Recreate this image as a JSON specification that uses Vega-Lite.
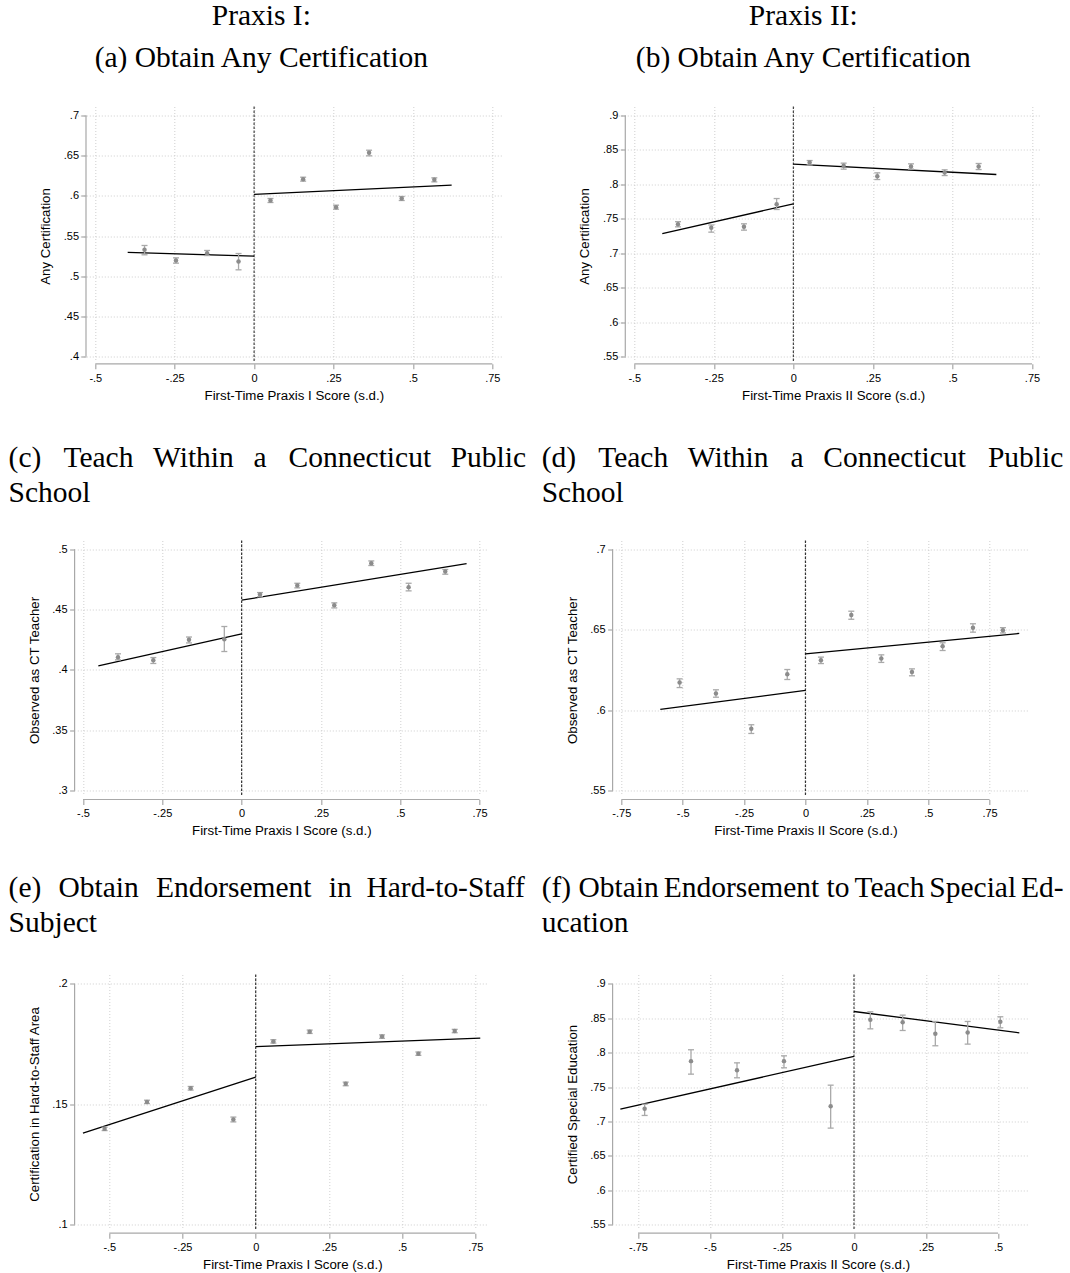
{
  "$schema": "https://vega.github.io/schema/vega-lite/v6.json",
  "background": "white",
  "autosize": {"type": "pad"},
  "padding": {"left": 8.3, "top": 0.5, "right": 0, "bottom": 0},
  "columns": 2,
  "bounds": "flush",
  "align": "all",
  "spacing": {"row": 179, "column": 113},
  "datasets": {
    "pts_a": [
      {"x": -0.345, "y": 0.5328, "lo": 0.5266, "hi": 0.5382},
      {"x": -0.246, "y": 0.5195, "lo": 0.5162, "hi": 0.5228},
      {"x": -0.148, "y": 0.5286, "lo": 0.5257, "hi": 0.532},
      {"x": -0.049, "y": 0.5183, "lo": 0.5079, "hi": 0.5282},
      {"x": 0.0516, "y": 0.5942, "lo": 0.5917, "hi": 0.5967},
      {"x": 0.1544, "y": 0.6207, "lo": 0.6183, "hi": 0.6232},
      {"x": 0.258, "y": 0.5859, "lo": 0.5834, "hi": 0.5884},
      {"x": 0.362, "y": 0.6535, "lo": 0.6498, "hi": 0.6568},
      {"x": 0.4648, "y": 0.5967, "lo": 0.5942, "hi": 0.5992},
      {"x": 0.5675, "y": 0.62, "lo": 0.6174, "hi": 0.6224}
    ],
    "fit_a": [
      {"seg": "L", "x": -0.398, "y": 0.5295}, {"seg": "L", "x": 0, "y": 0.5249},
      {"seg": "R", "x": 0, "y": 0.6017}, {"seg": "R", "x": 0.622, "y": 0.6133}
    ],
    "pts_b": [
      {"x": -0.3627, "y": 0.7422, "lo": 0.7383, "hi": 0.7458},
      {"x": -0.258, "y": 0.7369, "lo": 0.7306, "hi": 0.741},
      {"x": -0.1553, "y": 0.7383, "lo": 0.7335, "hi": 0.7427},
      {"x": -0.0526, "y": 0.7712, "lo": 0.7635, "hi": 0.7794},
      {"x": 0.0511, "y": 0.8317, "lo": 0.8283, "hi": 0.8346},
      {"x": 0.158, "y": 0.8269, "lo": 0.8221, "hi": 0.8308},
      {"x": 0.2638, "y": 0.8119, "lo": 0.807, "hi": 0.8167},
      {"x": 0.3697, "y": 0.8259, "lo": 0.8221, "hi": 0.8298},
      {"x": 0.4755, "y": 0.8172, "lo": 0.8128, "hi": 0.8211},
      {"x": 0.5823, "y": 0.8259, "lo": 0.8215, "hi": 0.8303}
    ],
    "fit_b": [
      {"seg": "L", "x": -0.412, "y": 0.7286}, {"seg": "L", "x": 0, "y": 0.7717},
      {"seg": "R", "x": 0, "y": 0.8293}, {"seg": "R", "x": 0.638, "y": 0.8143}
    ],
    "pts_c": [
      {"x": -0.3897, "y": 0.4106, "lo": 0.4084, "hi": 0.4134},
      {"x": -0.2784, "y": 0.4081, "lo": 0.4054, "hi": 0.4103},
      {"x": -0.1659, "y": 0.425, "lo": 0.4224, "hi": 0.4273},
      {"x": -0.0546, "y": 0.4255, "lo": 0.4153, "hi": 0.436},
      {"x": 0.0578, "y": 0.4625, "lo": 0.4606, "hi": 0.4641},
      {"x": 0.1754, "y": 0.4699, "lo": 0.468, "hi": 0.4718},
      {"x": 0.292, "y": 0.4537, "lo": 0.4514, "hi": 0.4556},
      {"x": 0.4086, "y": 0.4884, "lo": 0.4865, "hi": 0.4903},
      {"x": 0.5263, "y": 0.4686, "lo": 0.4655, "hi": 0.4718},
      {"x": 0.6418, "y": 0.4815, "lo": 0.4793, "hi": 0.4832}
    ],
    "fit_c": [
      {"seg": "L", "x": -0.4517, "y": 0.4034}, {"seg": "L", "x": 0, "y": 0.4299},
      {"seg": "R", "x": 0, "y": 0.4578}, {"seg": "R", "x": 0.709, "y": 0.4881}
    ],
    "pts_d": [
      {"x": -0.5125, "y": 0.6172, "lo": 0.6141, "hi": 0.6195},
      {"x": -0.3645, "y": 0.6104, "lo": 0.6081, "hi": 0.6127},
      {"x": -0.2206, "y": 0.5885, "lo": 0.5856, "hi": 0.591},
      {"x": -0.074, "y": 0.6224, "lo": 0.6191, "hi": 0.6253},
      {"x": 0.0631, "y": 0.6311, "lo": 0.629, "hi": 0.633},
      {"x": 0.1867, "y": 0.6592, "lo": 0.6565, "hi": 0.6615},
      {"x": 0.3089, "y": 0.6321, "lo": 0.6297, "hi": 0.6344},
      {"x": 0.4338, "y": 0.6237, "lo": 0.6214, "hi": 0.6257},
      {"x": 0.5587, "y": 0.6398, "lo": 0.6371, "hi": 0.6419},
      {"x": 0.6822, "y": 0.6512, "lo": 0.6485, "hi": 0.6537},
      {"x": 0.8043, "y": 0.6497, "lo": 0.648, "hi": 0.6513}
    ],
    "fit_d": [
      {"seg": "L", "x": -0.5912, "y": 0.6005}, {"seg": "L", "x": 0, "y": 0.6123},
      {"seg": "R", "x": 0, "y": 0.635}, {"seg": "R", "x": 0.8708, "y": 0.6477}
    ],
    "pts_e": [
      {"x": -0.516, "y": 0.1398, "lo": 0.1391, "hi": 0.1405},
      {"x": -0.3713, "y": 0.151, "lo": 0.1503, "hi": 0.1517},
      {"x": -0.2221, "y": 0.1567, "lo": 0.1559, "hi": 0.1574},
      {"x": -0.0763, "y": 0.1437, "lo": 0.1427, "hi": 0.1447},
      {"x": 0.0603, "y": 0.1761, "lo": 0.1754, "hi": 0.1768},
      {"x": 0.1844, "y": 0.1801, "lo": 0.1794, "hi": 0.1808},
      {"x": 0.3074, "y": 0.1585, "lo": 0.1577, "hi": 0.1592},
      {"x": 0.4315, "y": 0.1781, "lo": 0.1774, "hi": 0.1788},
      {"x": 0.5556, "y": 0.171, "lo": 0.1703, "hi": 0.1717},
      {"x": 0.6797, "y": 0.1804, "lo": 0.1797, "hi": 0.1811}
    ],
    "fit_e": [
      {"seg": "L", "x": -0.59, "y": 0.138}, {"seg": "L", "x": 0, "y": 0.1613},
      {"seg": "R", "x": 0, "y": 0.1739}, {"seg": "R", "x": 0.767, "y": 0.1775}
    ],
    "pts_f": [
      {"x": -0.7269, "y": 0.7185, "lo": 0.7088, "hi": 0.7252},
      {"x": -0.566, "y": 0.7877, "lo": 0.7688, "hi": 0.8042},
      {"x": -0.4062, "y": 0.7746, "lo": 0.7635, "hi": 0.7852},
      {"x": -0.2431, "y": 0.7877, "lo": 0.778, "hi": 0.7954},
      {"x": -0.081, "y": 0.7223, "lo": 0.6904, "hi": 0.7528},
      {"x": 0.0567, "y": 0.8477, "lo": 0.8346, "hi": 0.8593},
      {"x": 0.169, "y": 0.8443, "lo": 0.8322, "hi": 0.8545},
      {"x": 0.2824, "y": 0.8274, "lo": 0.81, "hi": 0.8453},
      {"x": 0.3947, "y": 0.8293, "lo": 0.8124, "hi": 0.8453},
      {"x": 0.5081, "y": 0.8448, "lo": 0.8361, "hi": 0.8521}
    ],
    "fit_f": [
      {"seg": "L", "x": -0.8113, "y": 0.718}, {"seg": "L", "x": 0, "y": 0.7945},
      {"seg": "R", "x": 0, "y": 0.8598}, {"seg": "R", "x": 0.574, "y": 0.8288}
    ]
  },
  "concat": [
    {
      "width": 425, "height": 255,
      "title": {"text": ["Praxis I:", "(a) Obtain Any Certification"], "anchor": "middle", "dx": -28.5, "lineHeight": 42, "offset": 32},
      "layer": [
        {"data": {"values": [{}]}, "mark": {"type": "rule", "color": "#a8a8a8", "strokeWidth": 1.2}, "encoding": {"x": {"datum": -0.5293}, "y": {"datum": 0.4}, "y2": {"datum": 0.7}}},
        {"data": {"values": [{}]}, "mark": {"type": "rule", "color": "#a8a8a8", "strokeWidth": 1.2}, "encoding": {"x": {"datum": -0.5}, "x2": {"datum": 0.75}, "y": {"datum": 0.39091}}},
        {"data": {"values": [{}]}, "mark": {"type": "rule", "color": "#444444", "strokeDash": [2.5, 1.5], "strokeWidth": 1.2}, "encoding": {"x": {"datum": 0}}},
        {"data": {"name": "fit_a"}, "mark": {"type": "line", "color": "#000000", "strokeWidth": 1.3}, "encoding": {"x": {"field": "x", "type": "quantitative"}, "y": {"field": "y", "type": "quantitative"}, "detail": {"field": "seg"}}},
        {"data": {"name": "pts_a"}, "mark": {"type": "rule", "color": "#a9a9a9", "strokeWidth": 1.3}, "encoding": {"x": {"field": "x", "type": "quantitative"}, "y": {"field": "lo", "type": "quantitative"}, "y2": {"field": "hi"}}},
        {"data": {"name": "pts_a"}, "mark": {"type": "tick", "orient": "horizontal", "size": 6, "thickness": 1.3, "color": "#a9a9a9", "opacity": 1}, "encoding": {"x": {"field": "x", "type": "quantitative"}, "y": {"field": "lo", "type": "quantitative"}}},
        {"data": {"name": "pts_a"}, "mark": {"type": "tick", "orient": "horizontal", "size": 6, "thickness": 1.3, "color": "#a9a9a9", "opacity": 1}, "encoding": {"x": {"field": "x", "type": "quantitative"}, "y": {"field": "hi", "type": "quantitative"}}},
        {"data": {"name": "pts_a"}, "mark": {"type": "point", "filled": true, "size": 20, "color": "#8c8c8c", "opacity": 1},
         "encoding": {
           "x": {"field": "x", "type": "quantitative", "scale": {"domain": [-0.55668, 0.78149], "nice": false, "zero": false},
                 "axis": {"title": "First-Time Praxis I Score (s.d.)", "values": [-0.5, -0.25, 0, 0.25, 0.5, 0.75], "tickCount": 40, "offset": 2.3, "titleX": 216.5, "labelOverlap": false}},
           "y": {"field": "y", "type": "quantitative", "scale": {"domain": [0.39378, 0.7112], "nice": false, "zero": false},
                 "axis": {"title": "Any Certification", "values": [0.4, 0.45, 0.5, 0.55, 0.6, 0.65, 0.7], "tickCount": 40, "offset": -8.7, "labelOverlap": false}}
         }}
      ]
    },
    {
      "width": 425, "height": 255,
      "title": {"text": ["Praxis II:", "(b) Obtain Any Certification"], "anchor": "middle", "dx": -24.5, "lineHeight": 42, "offset": 32},
      "layer": [
        {"data": {"values": [{}]}, "mark": {"type": "rule", "color": "#a8a8a8", "strokeWidth": 1.2}, "encoding": {"x": {"datum": -0.52829}, "y": {"datum": 0.55}, "y2": {"datum": 0.9}}},
        {"data": {"values": [{}]}, "mark": {"type": "rule", "color": "#a8a8a8", "strokeWidth": 1.2}, "encoding": {"x": {"datum": -0.5}, "x2": {"datum": 0.75}, "y": {"datum": 0.5394}}},
        {"data": {"values": [{}]}, "mark": {"type": "rule", "color": "#444444", "strokeDash": [2.5, 1.5], "strokeWidth": 1.2}, "encoding": {"x": {"datum": 0}}},
        {"data": {"name": "fit_b"}, "mark": {"type": "line", "color": "#000000", "strokeWidth": 1.3}, "encoding": {"x": {"field": "x", "type": "quantitative"}, "y": {"field": "y", "type": "quantitative"}, "detail": {"field": "seg"}}},
        {"data": {"name": "pts_b"}, "mark": {"type": "rule", "color": "#a9a9a9", "strokeWidth": 1.3}, "encoding": {"x": {"field": "x", "type": "quantitative"}, "y": {"field": "lo", "type": "quantitative"}, "y2": {"field": "hi"}}},
        {"data": {"name": "pts_b"}, "mark": {"type": "tick", "orient": "horizontal", "size": 6, "thickness": 1.3, "color": "#a9a9a9", "opacity": 1}, "encoding": {"x": {"field": "x", "type": "quantitative"}, "y": {"field": "lo", "type": "quantitative"}}},
        {"data": {"name": "pts_b"}, "mark": {"type": "tick", "orient": "horizontal", "size": 6, "thickness": 1.3, "color": "#a9a9a9", "opacity": 1}, "encoding": {"x": {"field": "x", "type": "quantitative"}, "y": {"field": "hi", "type": "quantitative"}}},
        {"data": {"name": "pts_b"}, "mark": {"type": "point", "filled": true, "size": 20, "color": "#8c8c8c", "opacity": 1},
         "encoding": {
           "x": {"field": "x", "type": "quantitative", "scale": {"domain": [-0.55972, 0.77609], "nice": false, "zero": false},
                 "axis": {"title": "First-Time Praxis II Score (s.d.)", "values": [-0.5, -0.25, 0, 0.25, 0.5, 0.75], "tickCount": 40, "offset": 2.3, "titleX": 217.85, "labelOverlap": false}},
           "y": {"field": "y", "type": "quantitative", "scale": {"domain": [0.54274, 0.91307], "nice": false, "zero": false},
                 "axis": {"title": "Any Certification", "values": [0.55, 0.6, 0.65, 0.7, 0.75, 0.8, 0.85, 0.9], "tickCount": 40, "offset": -10, "labelOverlap": false}}
         }}
      ]
    },
    {
      "width": 411, "height": 255,
      "title": {"text": ["(c)\u2002\u00a0Teach\u2002\u2006Within\u2002\u2006a\u2002\u00a0Connecticut\u2002\u2006Public", "School"], "anchor": "start", "dx": -68.7, "lineHeight": 35, "offset": 31},
      "layer": [
        {"data": {"values": [{}]}, "mark": {"type": "rule", "color": "#a8a8a8", "strokeWidth": 1.2}, "encoding": {"x": {"datum": -0.52648}, "y": {"datum": 0.3}, "y2": {"datum": 0.5}}},
        {"data": {"values": [{}]}, "mark": {"type": "rule", "color": "#a8a8a8", "strokeWidth": 1.2}, "encoding": {"x": {"datum": -0.5}, "x2": {"datum": 0.75}, "y": {"datum": 0.2928}}},
        {"data": {"values": [{}]}, "mark": {"type": "rule", "color": "#333333", "strokeDash": [2.5, 1.5], "strokeWidth": 1.2}, "encoding": {"x": {"datum": 0}}},
        {"data": {"name": "fit_c"}, "mark": {"type": "line", "color": "#000000", "strokeWidth": 1.3}, "encoding": {"x": {"field": "x", "type": "quantitative"}, "y": {"field": "y", "type": "quantitative"}, "detail": {"field": "seg"}}},
        {"data": {"name": "pts_c"}, "mark": {"type": "rule", "color": "#a9a9a9", "strokeWidth": 1.3}, "encoding": {"x": {"field": "x", "type": "quantitative"}, "y": {"field": "lo", "type": "quantitative"}, "y2": {"field": "hi"}}},
        {"data": {"name": "pts_c"}, "mark": {"type": "tick", "orient": "horizontal", "size": 6, "thickness": 1.3, "color": "#a9a9a9", "opacity": 1}, "encoding": {"x": {"field": "x", "type": "quantitative"}, "y": {"field": "lo", "type": "quantitative"}}},
        {"data": {"name": "pts_c"}, "mark": {"type": "tick", "orient": "horizontal", "size": 6, "thickness": 1.3, "color": "#a9a9a9", "opacity": 1}, "encoding": {"x": {"field": "x", "type": "quantitative"}, "y": {"field": "hi", "type": "quantitative"}}},
        {"data": {"name": "pts_c"}, "mark": {"type": "point", "filled": true, "size": 20, "color": "#8c8c8c", "opacity": 1},
         "encoding": {
           "x": {"field": "x", "type": "quantitative", "scale": {"domain": [-0.51797, 0.77742], "nice": false, "zero": false},
                 "axis": {"title": "First-Time Praxis I Score (s.d.)", "values": [-0.5, -0.25, 0, 0.25, 0.5, 0.75], "tickCount": 40, "offset": 4, "titleX": 204, "labelOverlap": false}},
           "y": {"field": "y", "type": "quantitative", "scale": {"domain": [0.29611, 0.5072], "nice": false, "zero": false},
                 "axis": {"title": "Observed as CT Teacher", "values": [0.3, 0.35, 0.4, 0.45, 0.5], "tickCount": 40, "offset": 2.7, "labelOverlap": false}}
         }}
      ]
    },
    {
      "width": 412, "height": 255,
      "title": {"text": ["(d)\u2002\u00a0Teach\u2002\u2006Within\u2002\u00a0a\u2002\u2006Connecticut\u2002\u00a0Public", "School"], "anchor": "start", "dx": -73.6, "lineHeight": 35, "offset": 31},
      "layer": [
        {"data": {"values": [{}]}, "mark": {"type": "rule", "color": "#a8a8a8", "strokeWidth": 1.2}, "encoding": {"x": {"datum": -0.78543}, "y": {"datum": 0.55}, "y2": {"datum": 0.7}}},
        {"data": {"values": [{}]}, "mark": {"type": "rule", "color": "#a8a8a8", "strokeWidth": 1.2}, "encoding": {"x": {"datum": -0.75}, "x2": {"datum": 0.75}, "y": {"datum": 0.5446}}},
        {"data": {"values": [{}]}, "mark": {"type": "rule", "color": "#333333", "strokeDash": [2.5, 1.5], "strokeWidth": 1.2}, "encoding": {"x": {"datum": 0}}},
        {"data": {"name": "fit_d"}, "mark": {"type": "line", "color": "#000000", "strokeWidth": 1.3}, "encoding": {"x": {"field": "x", "type": "quantitative"}, "y": {"field": "y", "type": "quantitative"}, "detail": {"field": "seg"}}},
        {"data": {"name": "pts_d"}, "mark": {"type": "rule", "color": "#a9a9a9", "strokeWidth": 1.3}, "encoding": {"x": {"field": "x", "type": "quantitative"}, "y": {"field": "lo", "type": "quantitative"}, "y2": {"field": "hi"}}},
        {"data": {"name": "pts_d"}, "mark": {"type": "tick", "orient": "horizontal", "size": 6, "thickness": 1.3, "color": "#a9a9a9", "opacity": 1}, "encoding": {"x": {"field": "x", "type": "quantitative"}, "y": {"field": "lo", "type": "quantitative"}}},
        {"data": {"name": "pts_d"}, "mark": {"type": "tick", "orient": "horizontal", "size": 6, "thickness": 1.3, "color": "#a9a9a9", "opacity": 1}, "encoding": {"x": {"field": "x", "type": "quantitative"}, "y": {"field": "hi", "type": "quantitative"}}},
        {"data": {"name": "pts_d"}, "mark": {"type": "point", "filled": true, "size": 20, "color": "#8c8c8c", "opacity": 1},
         "encoding": {
           "x": {"field": "x", "type": "quantitative", "scale": {"domain": [-0.77444, 0.90354], "nice": false, "zero": false},
                 "axis": {"title": "First-Time Praxis II Score (s.d.)", "values": [-0.75, -0.5, -0.25, 0, 0.25, 0.5, 0.75], "tickCount": 40, "offset": 4, "titleX": 190.15, "labelOverlap": false}},
           "y": {"field": "y", "type": "quantitative", "scale": {"domain": [0.54708, 0.7054], "nice": false, "zero": false},
                 "axis": {"title": "Observed as CT Teacher", "values": [0.55, 0.6, 0.65, 0.7], "tickCount": 40, "offset": 2.7, "labelOverlap": false}}
         }}
      ]
    },
    {
      "width": 411, "height": 255,
      "title": {"text": ["(e)\u2004\u2005Obtain\u2004\u2005Endorsement\u2004\u2005in\u2002Hard-to-Staff", "Subject"], "anchor": "start", "dx": -68.7, "lineHeight": 35, "offset": 35.5},
      "layer": [
        {"data": {"values": [{}]}, "mark": {"type": "rule", "color": "#a8a8a8", "strokeWidth": 1.2}, "encoding": {"x": {"datum": -0.61851}, "y": {"datum": 0.1}, "y2": {"datum": 0.2}}},
        {"data": {"values": [{}]}, "mark": {"type": "rule", "color": "#a8a8a8", "strokeWidth": 1.2}, "encoding": {"x": {"datum": -0.5}, "x2": {"datum": 0.75}, "y": {"datum": 0.09651}}},
        {"data": {"values": [{}]}, "mark": {"type": "rule", "color": "#333333", "strokeDash": [2.5, 1.5], "strokeWidth": 1.2}, "encoding": {"x": {"datum": 0}}},
        {"data": {"name": "fit_e"}, "mark": {"type": "line", "color": "#000000", "strokeWidth": 1.3}, "encoding": {"x": {"field": "x", "type": "quantitative"}, "y": {"field": "y", "type": "quantitative"}, "detail": {"field": "seg"}}},
        {"data": {"name": "pts_e"}, "mark": {"type": "rule", "color": "#a9a9a9", "strokeWidth": 1.3}, "encoding": {"x": {"field": "x", "type": "quantitative"}, "y": {"field": "lo", "type": "quantitative"}, "y2": {"field": "hi"}}},
        {"data": {"name": "pts_e"}, "mark": {"type": "tick", "orient": "horizontal", "size": 6, "thickness": 1.3, "color": "#a9a9a9", "opacity": 1}, "encoding": {"x": {"field": "x", "type": "quantitative"}, "y": {"field": "lo", "type": "quantitative"}}},
        {"data": {"name": "pts_e"}, "mark": {"type": "tick", "orient": "horizontal", "size": 6, "thickness": 1.3, "color": "#a9a9a9", "opacity": 1}, "encoding": {"x": {"field": "x", "type": "quantitative"}, "y": {"field": "hi", "type": "quantitative"}}},
        {"data": {"name": "pts_e"}, "mark": {"type": "point", "filled": true, "size": 20, "color": "#8c8c8c", "opacity": 1},
         "encoding": {
           "x": {"field": "x", "type": "quantitative", "scale": {"domain": [-0.60929, 0.7944], "nice": false, "zero": false},
                 "axis": {"title": "First-Time Praxis I Score (s.d.)", "values": [-0.5, -0.25, 0, 0.25, 0.5, 0.75], "tickCount": 40, "offset": 3.7, "titleX": 215, "labelOverlap": false}},
           "y": {"field": "y", "type": "quantitative", "scale": {"domain": [0.09805, 0.20386], "nice": false, "zero": false},
                 "axis": {"title": "Certification in Hard-to-Staff Area", "values": [0.1, 0.15, 0.2], "tickCount": 40, "offset": 2.7, "labelOverlap": false}}
         }}
      ]
    },
    {
      "width": 412, "height": 255,
      "title": {"text": ["(f)\u00a0Obtain\u2006Endorsement\u00a0to\u2006Teach\u2006Special\u2006Ed-", "ucation"], "anchor": "start", "dx": -73.6, "lineHeight": 35, "offset": 35.5},
      "layer": [
        {"data": {"values": [{}]}, "mark": {"type": "rule", "color": "#a8a8a8", "strokeWidth": 1.2}, "encoding": {"x": {"datum": -0.83819}, "y": {"datum": 0.55}, "y2": {"datum": 0.9}}},
        {"data": {"values": [{}]}, "mark": {"type": "rule", "color": "#a8a8a8", "strokeWidth": 1.2}, "encoding": {"x": {"datum": -0.75}, "x2": {"datum": 0.5}, "y": {"datum": 0.5378}}},
        {"data": {"values": [{}]}, "mark": {"type": "rule", "color": "#444444", "strokeDash": [2.5, 1.5], "strokeWidth": 1.2}, "encoding": {"x": {"datum": 0}}},
        {"data": {"name": "fit_f"}, "mark": {"type": "line", "color": "#000000", "strokeWidth": 1.3}, "encoding": {"x": {"field": "x", "type": "quantitative"}, "y": {"field": "y", "type": "quantitative"}, "detail": {"field": "seg"}}},
        {"data": {"name": "pts_f"}, "mark": {"type": "rule", "color": "#a9a9a9", "strokeWidth": 1.3}, "encoding": {"x": {"field": "x", "type": "quantitative"}, "y": {"field": "lo", "type": "quantitative"}, "y2": {"field": "hi"}}},
        {"data": {"name": "pts_f"}, "mark": {"type": "tick", "orient": "horizontal", "size": 6, "thickness": 1.3, "color": "#a9a9a9", "opacity": 1}, "encoding": {"x": {"field": "x", "type": "quantitative"}, "y": {"field": "lo", "type": "quantitative"}}},
        {"data": {"name": "pts_f"}, "mark": {"type": "tick", "orient": "horizontal", "size": 6, "thickness": 1.3, "color": "#a9a9a9", "opacity": 1}, "encoding": {"x": {"field": "x", "type": "quantitative"}, "y": {"field": "hi", "type": "quantitative"}}},
        {"data": {"name": "pts_f"}, "mark": {"type": "point", "filled": true, "size": 20, "color": "#8c8c8c", "opacity": 1},
         "encoding": {
           "x": {"field": "x", "type": "quantitative", "scale": {"domain": [-0.82882, 0.60174], "nice": false, "zero": false},
                 "axis": {"title": "First-Time Praxis II Score (s.d.)", "values": [-0.75, -0.5, -0.25, 0, 0.25, 0.5], "tickCount": 40, "offset": 3.7, "titleX": 202.7, "labelOverlap": false}},
           "y": {"field": "y", "type": "quantitative", "scale": {"domain": [0.54317, 0.91351], "nice": false, "zero": false},
                 "axis": {"title": "Certified Special Education", "values": [0.55, 0.6, 0.65, 0.7, 0.75, 0.8, 0.85, 0.9], "tickCount": 40, "offset": 2.7, "labelOverlap": false}}
         }}
      ]
    }
  ],
  "config": {
    "view": {"stroke": null},
    "font": "Liberation Sans",
    "title": {"font": "Liberation Serif", "fontSize": 29.5, "fontWeight": "normal", "color": "#000000", "frame": "group"},
    "axis": {
      "domain": false,
      "grid": true, "gridColor": "#cfcfcf", "gridDash": [1, 2], "gridWidth": 1,
      "ticks": true, "tickColor": "#a8a8a8", "tickSize": 5, "tickWidth": 1.2,
      "labelFont": "Liberation Sans", "labelFontSize": 11, "labelColor": "#000000",
      "labelExpr": "replace(toString(datum.value), '0.', '.')",
      "labelOverlap": false, "labelFlush": false, "labelBound": false, "labelSeparation": 0,
      "titleFont": "Liberation Sans", "titleFontSize": 13.3, "titleFontWeight": "normal", "titleColor": "#000000",
      "titleAlign": "center"
    },
    "axisX": {"labelPadding": 3.5, "titleBaseline": "alphabetic", "titleY": 35.5},
    "axisY": {"labelPadding": 2.5, "titleBaseline": "middle", "titleX": -40.5, "titleY": 129.5, "titleAngle": 270}
  }
}
